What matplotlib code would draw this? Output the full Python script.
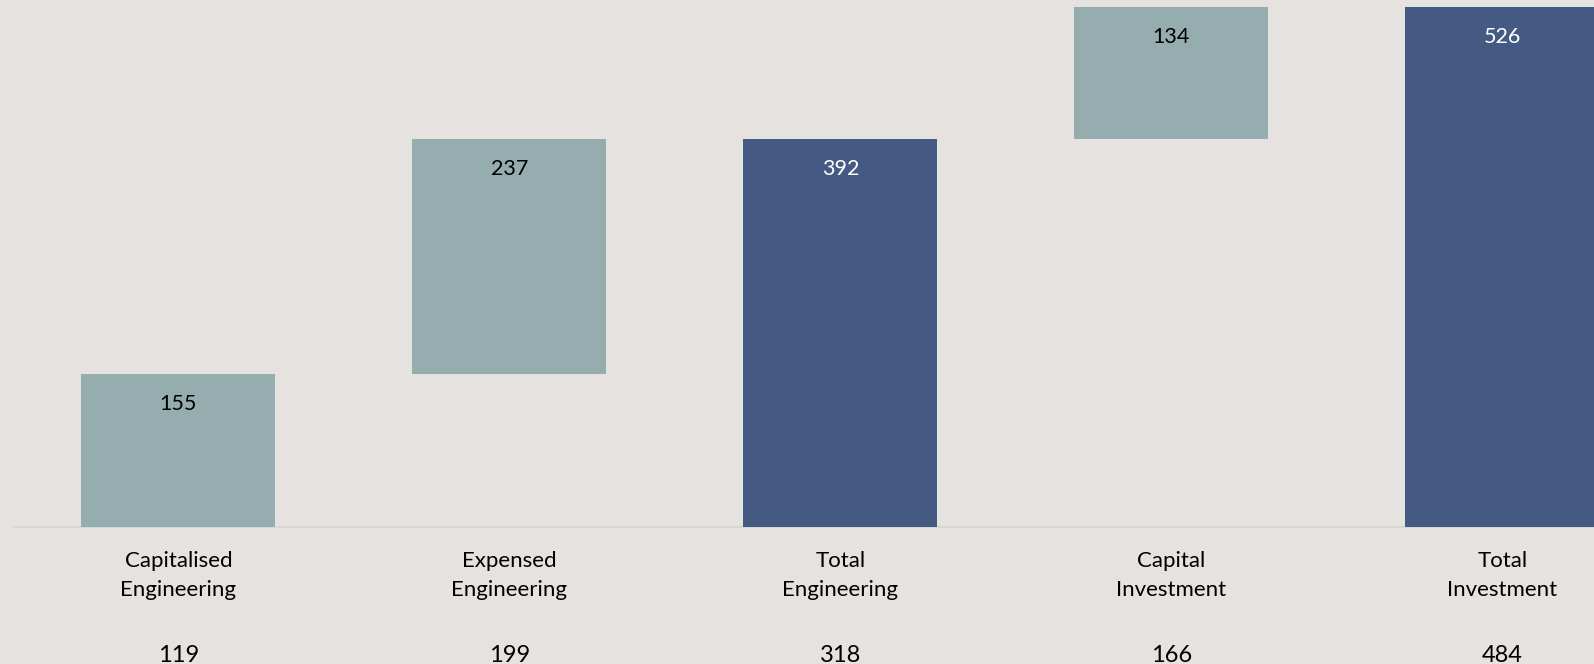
import matplotlib
matplotlib.use("Agg")
import matplotlib.pyplot as plt
import matplotlib.transforms as mtransforms

categories = ["Capitalised\nEngineering", "Expensed\nEngineering", "Total\nEngineering",
              "Capital\nInvestment", "Total\nInvestment"]
values = [155, 237, 392, 134, 526]
is_total = [False, False, True, False, True]
bottom_values = [119, 199, 318, 166, 484]

BG = "#E6E2DF"
TEAL = "#95ADAE"
BLUE = "#455A82"

plt.rcParams['font.family'] = ['Lato', 'DejaVu Sans']

W, H = 1594, 664
fig = plt.figure(figsize=(W / 100, H / 100), dpi=100, facecolor=BG)
ax = fig.add_axes([0, (H - 527) / H, 1, 527 / H])
ax.set_facecolor(BG)

# waterfall bottoms
bottoms = []
running = 0
for v, t in zip(values, is_total):
    if t:
        bottoms.append(0)
        running = v
    else:
        bottoms.append(running)
        running += v

x = list(range(len(values)))
colors = [BLUE if t else TEAL for t in is_total]
ax.bar(x, values, bottom=bottoms, width=0.586, color=colors, edgecolor='none', zorder=2)

ax.set_xlim(-0.539, 4.277)
ax.set_ylim(0, 533.1)
for s in ax.spines.values():
    s.set_visible(False)
ax.set_xticks([])
ax.set_yticks([])

# baseline
ax.plot([-0.5, 4.277], [0, 0], color="#D6D8D8", lw=1.5, zorder=1, clip_on=False)

# value labels inside top of bars
for xi, v, b, t in zip(x, values, bottoms, is_total):
    ax.annotate(str(v), xy=(xi, b + v), xytext=(0, -21.5), textcoords='offset points',
                ha='center', va='center', fontsize=15.5,
                color='white' if t else 'black', zorder=3)

# category labels and bottom numbers
trans = mtransforms.blended_transform_factory(ax.transData, fig.transFigure)
for xi, c, n in zip(x, categories, bottom_values):
    ax.text(xi, 1 - 575.5 / H, c, transform=trans, ha='center', va='center',
            fontsize=16, linespacing=1.62, color='black', clip_on=False)
    ax.text(xi, 1 - 645 / H, str(n), transform=trans, ha='center', va='top',
            fontsize=17, color='black', clip_on=False)

fig.savefig("out.png", dpi=100, facecolor=BG)
